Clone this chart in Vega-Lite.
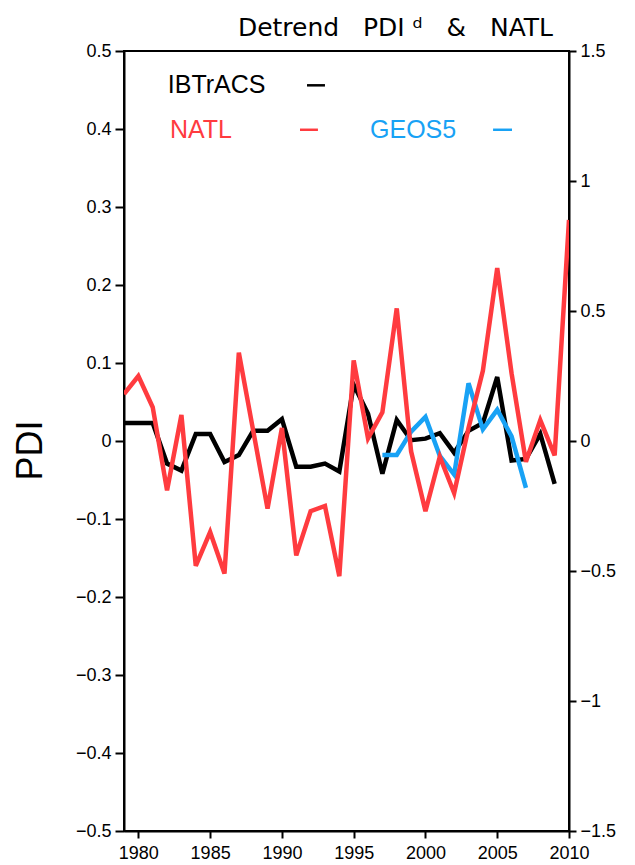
{
  "$schema": "https://vega.github.io/schema/vega-lite/v6.json",
  "width": 445,
  "height": 780,
  "autosize": {"type": "none"},
  "padding": {"left": 124, "top": 51, "right": 66, "bottom": 34},
  "background": "white",
  "config": {
    "view": {"stroke": "black", "strokeWidth": 2},
    "axis": {
      "grid": false,
      "domainColor": "black",
      "domainWidth": 2,
      "tickColor": "black",
      "tickWidth": 2,
      "labelColor": "black",
      "labelFont": "Liberation Sans",
      "labelFontSize": 18,
      "labelFlush": false,
      "labelOverlap": false,
      "titleColor": "black"
    }
  },
  "title": {
    "text": "Detrend\u00a0\u00a0\u00a0PDI\u00a0ᵈ\u00a0\u00a0\u00a0&\u00a0\u00a0\u00a0NATL",
    "anchor": "end",
    "frame": "group",
    "dx": -16,
    "offset": 1,
    "font": "DejaVu Sans",
    "fontSize": 25,
    "fontWeight": "normal",
    "color": "black"
  },
  "datasets": {
    "pdi": [
      {"year": 1979, "source": "IBTrACS", "pdi": 0.023},
      {"year": 1980, "source": "IBTrACS", "pdi": 0.023},
      {"year": 1981, "source": "IBTrACS", "pdi": 0.023},
      {"year": 1982, "source": "IBTrACS", "pdi": -0.029},
      {"year": 1983, "source": "IBTrACS", "pdi": -0.038},
      {"year": 1984, "source": "IBTrACS", "pdi": 0.009},
      {"year": 1985, "source": "IBTrACS", "pdi": 0.009},
      {"year": 1986, "source": "IBTrACS", "pdi": -0.027},
      {"year": 1987, "source": "IBTrACS", "pdi": -0.018},
      {"year": 1988, "source": "IBTrACS", "pdi": 0.013},
      {"year": 1989, "source": "IBTrACS", "pdi": 0.013},
      {"year": 1990, "source": "IBTrACS", "pdi": 0.028},
      {"year": 1991, "source": "IBTrACS", "pdi": -0.033},
      {"year": 1992, "source": "IBTrACS", "pdi": -0.033},
      {"year": 1993, "source": "IBTrACS", "pdi": -0.029},
      {"year": 1994, "source": "IBTrACS", "pdi": -0.039},
      {"year": 1995, "source": "IBTrACS", "pdi": 0.072},
      {"year": 1996, "source": "IBTrACS", "pdi": 0.035},
      {"year": 1997, "source": "IBTrACS", "pdi": -0.042},
      {"year": 1998, "source": "IBTrACS", "pdi": 0.027},
      {"year": 1999, "source": "IBTrACS", "pdi": 0.001},
      {"year": 2000, "source": "IBTrACS", "pdi": 0.003},
      {"year": 2001, "source": "IBTrACS", "pdi": 0.010},
      {"year": 2002, "source": "IBTrACS", "pdi": -0.015},
      {"year": 2003, "source": "IBTrACS", "pdi": 0.013},
      {"year": 2004, "source": "IBTrACS", "pdi": 0.023},
      {"year": 2005, "source": "IBTrACS", "pdi": 0.082},
      {"year": 2006, "source": "IBTrACS", "pdi": -0.025},
      {"year": 2007, "source": "IBTrACS", "pdi": -0.023},
      {"year": 2008, "source": "IBTrACS", "pdi": 0.009},
      {"year": 2009, "source": "IBTrACS", "pdi": -0.055},
      {"year": 1997, "source": "GEOS5", "pdi": -0.018},
      {"year": 1998, "source": "GEOS5", "pdi": -0.018},
      {"year": 1999, "source": "GEOS5", "pdi": 0.012},
      {"year": 2000, "source": "GEOS5", "pdi": 0.031},
      {"year": 2001, "source": "GEOS5", "pdi": -0.019},
      {"year": 2002, "source": "GEOS5", "pdi": -0.043},
      {"year": 2003, "source": "GEOS5", "pdi": 0.074},
      {"year": 2004, "source": "GEOS5", "pdi": 0.015},
      {"year": 2005, "source": "GEOS5", "pdi": 0.040},
      {"year": 2006, "source": "GEOS5", "pdi": 0.006},
      {"year": 2007, "source": "GEOS5", "pdi": -0.060}
    ],
    "natl": [
      {"year": 1979, "natl": 0.18},
      {"year": 1980, "natl": 0.25},
      {"year": 1981, "natl": 0.13},
      {"year": 1982, "natl": -0.19},
      {"year": 1983, "natl": 0.10},
      {"year": 1984, "natl": -0.48},
      {"year": 1985, "natl": -0.35},
      {"year": 1986, "natl": -0.51},
      {"year": 1987, "natl": 0.34},
      {"year": 1988, "natl": 0.04},
      {"year": 1989, "natl": -0.26},
      {"year": 1990, "natl": 0.05},
      {"year": 1991, "natl": -0.44},
      {"year": 1992, "natl": -0.27},
      {"year": 1993, "natl": -0.25},
      {"year": 1994, "natl": -0.52},
      {"year": 1995, "natl": 0.31},
      {"year": 1996, "natl": 0.01},
      {"year": 1997, "natl": 0.11},
      {"year": 1998, "natl": 0.51},
      {"year": 1999, "natl": -0.04},
      {"year": 2000, "natl": -0.27},
      {"year": 2001, "natl": -0.06},
      {"year": 2002, "natl": -0.20},
      {"year": 2003, "natl": 0.05},
      {"year": 2004, "natl": 0.27},
      {"year": 2005, "natl": 0.665},
      {"year": 2006, "natl": 0.26},
      {"year": 2007, "natl": -0.08},
      {"year": 2008, "natl": 0.08},
      {"year": 2009, "natl": -0.055},
      {"year": 2010, "natl": 0.85}
    ],
    "one": [{}]
  },
  "layer": [
    {
      "layer": [
        {
          "data": {"name": "pdi"},
          "transform": [{"filter": "datum.source === 'IBTrACS'"}],
          "mark": {"type": "line", "color": "black", "strokeWidth": 4.5, "strokeJoin": "miter", "clip": true},
          "encoding": {
            "x": {
              "field": "year", "type": "quantitative",
              "scale": {"domain": [1979, 2010], "nice": false, "zero": false},
              "axis": {
                "values": [1980, 1985, 1990, 1995, 2000, 2005, 2010],
                "format": "d",
                "title": null,
                "tickSize": 7,
                "labelPadding": 6
              }
            },
            "y": {
              "field": "pdi", "type": "quantitative",
              "scale": {"domain": [-0.5, 0.5], "nice": false, "zero": false},
              "axis": {
                "orient": "left",
                "values": [-0.5, -0.4, -0.3, -0.2, -0.1, 0, 0.1, 0.2, 0.3, 0.4, 0.5],
                "format": ".1~f",
                "tickSize": 9,
                "labelPadding": 4,
                "title": "PDI",
                "titleFont": "Liberation Sans",
                "titleFontSize": 36,
                "titleFontWeight": "normal",
                "titleAngle": 270,
                "titleAlign": "center",
                "titleBaseline": "middle",
                "titleX": -94,
                "titleY": 399
              }
            }
          }
        },
        {
          "data": {"name": "pdi"},
          "transform": [{"filter": "datum.source === 'GEOS5'"}],
          "mark": {"type": "line", "color": "#18a2f5", "strokeWidth": 4.5, "strokeJoin": "miter", "clip": true},
          "encoding": {
            "x": {"field": "year", "type": "quantitative"},
            "y": {"field": "pdi", "type": "quantitative"}
          }
        },
        {
          "data": {"name": "one"},
          "mark": {"type": "text", "align": "left", "baseline": "middle", "font": "Liberation Sans", "fontSize": 25, "color": "black"},
          "encoding": {
            "x": {"datum": 1982.05},
            "y": {"datum": 0.456},
            "text": {"value": "IBTrACS"}
          }
        },
        {
          "data": {"name": "one"},
          "mark": {"type": "text", "align": "left", "baseline": "middle", "font": "Liberation Sans", "fontSize": 25, "color": "#ff3b3f"},
          "encoding": {
            "x": {"datum": 1982.2},
            "y": {"datum": 0.399},
            "text": {"value": "NATL"}
          }
        },
        {
          "data": {"name": "one"},
          "mark": {"type": "text", "align": "left", "baseline": "middle", "font": "Liberation Sans", "fontSize": 25, "color": "#18a2f5"},
          "encoding": {
            "x": {"datum": 1996.14},
            "y": {"datum": 0.399},
            "text": {"value": "GEOS5"}
          }
        },
        {
          "data": {"name": "one"},
          "mark": {"type": "rule", "color": "black", "strokeWidth": 2.5},
          "encoding": {
            "x": {"datum": 1991.75},
            "x2": {"datum": 1993.0},
            "y": {"datum": 0.456}
          }
        },
        {
          "data": {"name": "one"},
          "mark": {"type": "rule", "color": "#ff3b3f", "strokeWidth": 2.5},
          "encoding": {
            "x": {"datum": 1991.26},
            "x2": {"datum": 1992.51},
            "y": {"datum": 0.399}
          }
        },
        {
          "data": {"name": "one"},
          "mark": {"type": "rule", "color": "#18a2f5", "strokeWidth": 2.5},
          "encoding": {
            "x": {"datum": 2004.71},
            "x2": {"datum": 2006.03},
            "y": {"datum": 0.399}
          }
        }
      ]
    },
    {
      "data": {"name": "natl"},
      "mark": {"type": "line", "color": "#ff3b3f", "strokeWidth": 4.5, "strokeJoin": "miter", "clip": true},
      "encoding": {
        "x": {"field": "year", "type": "quantitative"},
        "y": {
          "field": "natl", "type": "quantitative",
          "scale": {"domain": [-1.5, 1.5], "nice": false, "zero": false},
          "axis": {
            "orient": "right",
            "values": [-1.5, -1, -0.5, 0, 0.5, 1, 1.5],
            "format": ".1~f",
            "tickSize": 7,
            "labelPadding": 4,
            "title": null
          }
        }
      }
    }
  ],
  "resolve": {"scale": {"y": "independent"}}
}
